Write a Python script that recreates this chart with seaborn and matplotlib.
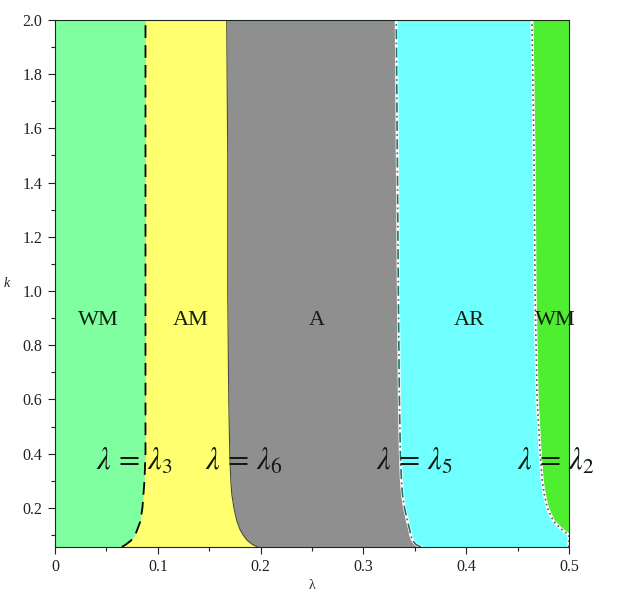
import numpy as np
import matplotlib
matplotlib.use("Agg")
import matplotlib.pyplot as plt
import seaborn as sns
import pandas as pd

# ---- region boundaries (k -> lambda) ----
k_pts = [0.056, 0.065, 0.08, 0.10, 0.12, 0.15, 0.20, 0.25, 0.30, 0.40, 0.60, 1.0, 1.5, 2.0]
lam3  = [0.065, 0.069, 0.074, 0.078, 0.080, 0.083, 0.085, 0.086, 0.087, 0.088, 0.088, 0.088, 0.088, 0.088]
lam6  = [0.197, 0.192, 0.187, 0.183, 0.180, 0.177, 0.174, 0.172, 0.171, 0.170, 0.169, 0.168, 0.168, 0.167]
lam5  = [0.356, 0.351, 0.348, 0.346, 0.345, 0.343, 0.340, 0.338, 0.337, 0.336, 0.335, 0.334, 0.333, 0.332]
lam2  = [0.500, 0.500, 0.500, 0.500, 0.493, 0.485, 0.479, 0.476, 0.474, 0.472, 0.469, 0.467, 0.466, 0.464]

regions = ["WM", "AM", "A", "AR", "WM"]
region_x = [0.042, 0.132, 0.255, 0.403, 0.487]
region_y = 0.89
region_colors = ["#80FFA0", "#FFFF70", "#8F8F8F", "#70FFFF", "#50EE30"]

curve_labels = [r"$\lambda\,=\,\lambda_3$", r"$\lambda\,=\,\lambda_6$",
                r"$\lambda\,=\,\lambda_5$", r"$\lambda\,=\,\lambda_2$"]
curve_label_x = [0.077, 0.184, 0.350, 0.487]
curve_label_y = 0.37

sns.set_style("ticks")
plt.rcParams["font.family"] = ["Liberation Serif", "DejaVu Serif"]
plt.rcParams["mathtext.fontset"] = "stix"

fig = plt.figure(figsize=(6.4, 6.05), dpi=100)
ax = fig.add_axes([0.086, 0.096, 0.803, 0.871])

k = np.array(k_pts)
bounds = [np.zeros_like(k), np.array(lam3), np.array(lam6), np.array(lam5),
          np.array(lam2), np.full_like(k, 0.5)]
for i, col in enumerate(region_colors):
    ax.fill_betweenx(k, bounds[i], bounds[i + 1], color=col, lw=0)

df = pd.DataFrame({"k": k_pts, "l3": lam3, "l6": lam6, "l5": lam5, "l2": lam2})
# white halos under the right-hand curves
sns.lineplot(data=df, x="l5", y="k", sort=False, estimator=None, color="white", lw=2.2, ax=ax)
sns.lineplot(data=df, x="l2", y="k", sort=False, estimator=None, color="white", lw=2.2, ax=ax)
sns.lineplot(data=df, x="l3", y="k", sort=False, estimator=None, color="black",
             lw=1.3, ax=ax, linestyle=(0, (7, 4)))
sns.lineplot(data=df, x="l6", y="k", sort=False, estimator=None, color="#4a4a4a", lw=0.8, ax=ax)
sns.lineplot(data=df, x="l5", y="k", sort=False, estimator=None, color="#2a6f6a",
             lw=1.2, ax=ax, linestyle=(0, (6, 2, 1, 2)))
sns.lineplot(data=df, x="l2", y="k", sort=False, estimator=None, color="#555555",
             lw=1.2, ax=ax, linestyle=(0, (1, 2)))

for name, x in zip(regions, region_x):
    ax.text(x, region_y, name, ha="center", va="center", fontsize=16, color="#102010")
for lab, x in zip(curve_labels, curve_label_x):
    ax.text(x, curve_label_y, lab, ha="center", va="center", fontsize=22, color="#101a10")

ax.set_xlim(0, 0.5)
ax.set_ylim(0.056, 2.0)
ax.set_xticks([0, 0.1, 0.2, 0.3, 0.4, 0.5])
ax.set_xticklabels(["0", "0.1", "0.2", "0.3", "0.4", "0.5"])
ax.set_yticks(np.arange(0.2, 2.01, 0.2))
ax.set_yticklabels([f"{v:.1f}" for v in np.arange(0.2, 2.01, 0.2)])
ax.set_xticks([0.05, 0.15, 0.25, 0.35, 0.45], minor=True)
ax.set_yticks(np.arange(0.1, 2.0, 0.2), minor=True)
ax.tick_params(axis="both", which="major", labelsize=11.5, length=5, width=0.8,
               colors="#222222", pad=4)
ax.tick_params(axis="both", which="minor", length=3, width=0.8, colors="#222222")
ax.set_xlabel("λ", fontsize=10)
ax.set_ylabel("k", fontsize=10, rotation=0, style="italic", va="center")
ax.xaxis.set_label_coords(0.5, -0.06)
ax.yaxis.set_label_coords(-0.095, 0.5)
for s in ax.spines.values():
    s.set_linewidth(0.8)
    s.set_color("#1a2a1a")

fig.savefig("out.png", dpi=100)
